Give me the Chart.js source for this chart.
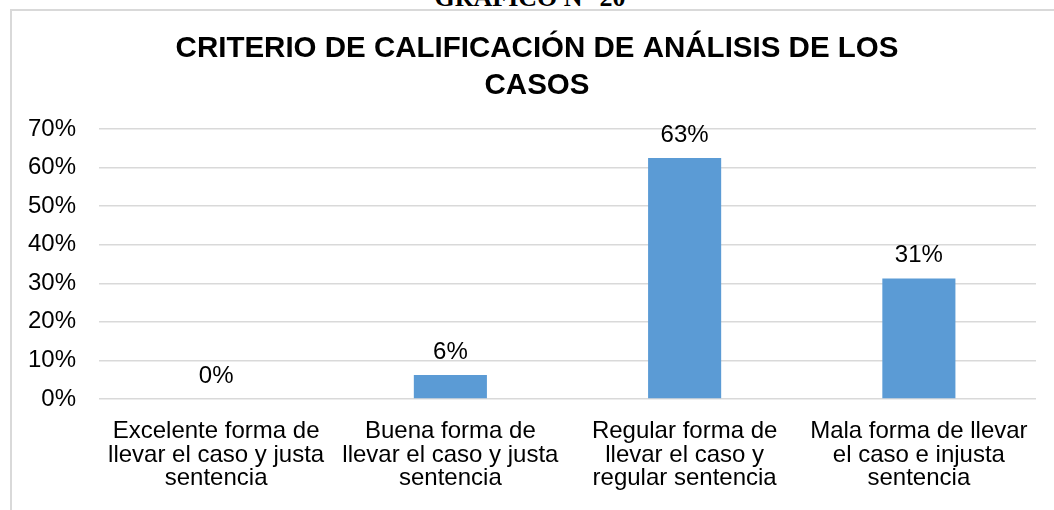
<!DOCTYPE html>
<html>
<head>
<meta charset="utf-8">
<script src="https://cdn.jsdelivr.net/npm/chart.js@4.4.1/dist/chart.umd.min.js"></script>
<style>
  html, body { margin: 0; padding: 0; background: #ffffff; overflow: hidden; }
  body { width: 1054px; height: 510px; position: relative; }
  #frame { position: absolute; left: 10px; top: 9px; width: 1100px; height: 600px;
           border: 2px solid #d9d9d9; box-sizing: border-box; }
  #caption { position: absolute; left: 0; width: 1060px; top: -15px; height: 26px; line-height: 26px;
             text-align: center; font-family: "Liberation Serif", "Times New Roman", serif;
             font-weight: bold; font-size: 26px; color: #000; white-space: nowrap; }
  #wrap { position: absolute; left: 0; top: 0; width: 1054px; height: 510px; }
</style>
</head>
<body>
<div id="caption">GRÁFICO N° 20</div>
<div id="frame"></div>
<div id="wrap"><canvas id="c" width="1054" height="510"></canvas></div>
<script>
const titleLines = ["CRITERIO DE CALIFICACIÓN DE ANÁLISIS DE LOS", "CASOS"];
const categories = [
  ["Excelente forma de", "llevar el caso y justa", "sentencia"],
  ["Buena forma de", "llevar el caso y justa", "sentencia"],
  ["Regular forma de", "llevar el caso y", "regular sentencia"],
  ["Mala forma de llevar", "el caso e injusta", "sentencia"]
];
const values = [0, 6.25, 62.5, 31.25];
const valueLabels = ["0%", "6%", "63%", "31%"];
const yMax = 70;
const yStep = 10;

const FONT = '"Liberation Sans", Arial, sans-serif';

const titlePlugin = {
  id: 'twoLineTitle',
  afterDraw(chart) {
    const ctx = chart.ctx;
    ctx.save();
    ctx.font = 'bold 29.5px ' + FONT;
    ctx.fillStyle = '#000000';
    ctx.textAlign = 'center';
    ctx.textBaseline = 'alphabetic';
    titleLines.forEach((t, i) => ctx.fillText(t, 537, 57 + i * 36.5));
    ctx.restore();
  }
};

const barLabelPlugin = {
  id: 'barLabels',
  afterDatasetsDraw(chart) {
    const ctx = chart.ctx;
    const meta = chart.getDatasetMeta(0);
    ctx.save();
    ctx.font = '24px ' + FONT;
    ctx.fillStyle = '#000000';
    ctx.textAlign = 'center';
    ctx.textBaseline = 'alphabetic';
    meta.data.forEach((bar, i) => {
      ctx.fillText(valueLabels[i], bar.x, bar.y - 16);
    });
    ctx.restore();
  }
};

new Chart(document.getElementById('c'), {
  type: 'bar',
  data: {
    labels: categories,
    datasets: [{
      data: values,
      backgroundColor: '#5B9BD5',
      borderWidth: 0,
      barPercentage: 0.312,
      categoryPercentage: 1.0
    }]
  },
  options: {
    responsive: false,
    animation: false,
    devicePixelRatio: 1,
    layout: { padding: { left: 0, right: 18, top: 129, bottom: 0 } },
    plugins: {
      legend: { display: false },
      tooltip: { enabled: false },
      title: { display: false }
    },
    scales: {
      x: {
        grid: { display: false, drawTicks: false },
        border: { display: false },
        ticks: {
          color: '#000000',
          font: { family: FONT, size: 24, lineHeight: 0.97 },
          padding: 21,
          maxRotation: 0,
          autoSkip: false
        },
        afterFit(scale) { scale.height = 111; }
      },
      y: {
        min: 0,
        max: yMax,
        grid: { color: '#d9d9d9', lineWidth: 1.5, drawTicks: false },
        border: { display: false },
        ticks: {
          stepSize: yStep,
          color: '#000000',
          font: { family: FONT, size: 24 },
          padding: 23,
          callback: (v) => v + '%'
        },
        afterFit(scale) { scale.width = 99; }
      }
    }
  },
  plugins: [barLabelPlugin, titlePlugin]
});
</script>
</body>
</html>
